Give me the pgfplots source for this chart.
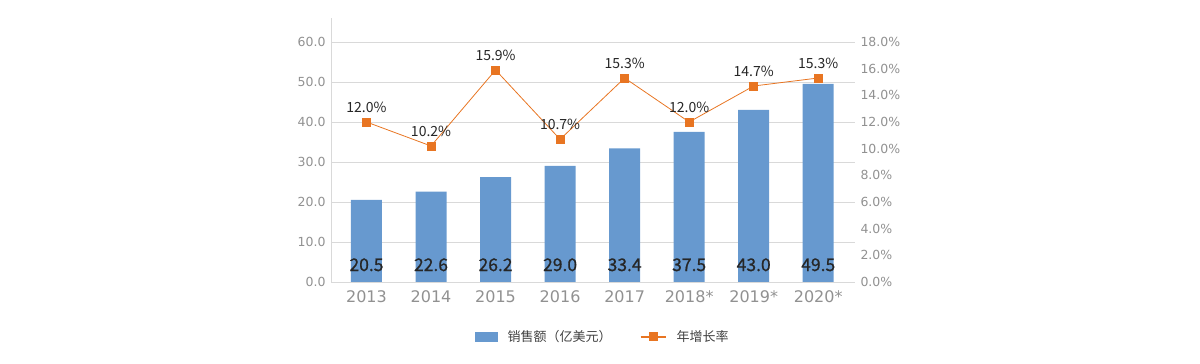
\documentclass[border=0pt]{standalone}
\usepackage{pgfplots}
\pgfplotsset{compat=1.18}
\usepackage{fontspec}
\setmainfont{Noto Sans CJK SC}
\newfontfamily\dejavu{DejaVu Sans}
\newfontfamily\barfont[FakeBold=0.8]{Noto Sans CJK SC}
\definecolor{barblue}{RGB}{103,153,207}
\definecolor{lineorange}{RGB}{232,117,34}
\definecolor{gridgray}{RGB}{217,217,217}
\definecolor{tickgray}{RGB}{145,145,145}
\definecolor{labeldark}{RGB}{38,38,38}
\definecolor{legendtext}{RGB}{64,64,64}
\begin{document}
\begin{tikzpicture}
\useasboundingbox (0,0) rectangle (1200pt,364pt);
\begin{axis}[
  at={(331pt,82pt)}, anchor=south west,
  scale only axis, width=524pt, height=264pt,
  xmin=-0.55, xmax=7.57, ymin=0, ymax=66,
  xtick={0,...,7},
  xticklabels={2013,2014,2015,2016,2017,2018*,2019*,2020*},
  ytick={0,10,...,60},
  yticklabels={0.0,10.0,20.0,30.0,40.0,50.0,60.0},
  major tick length=0pt,
  ymajorgrids, grid style={gridgray, line width=0.8pt},
  axis x line*=bottom, axis y line*=left,
  x axis line style={draw=none},
  y axis line style={draw=gridgray, line width=0.8pt, -},
  xticklabel style={font=\dejavu\fontsize{16}{18}\selectfont, text=tickgray, yshift=-5pt},
  yticklabel style={font=\dejavu\fontsize{12.5}{14}\selectfont, text=tickgray, xshift=-2pt},
  clip=false,
]
\addplot[ybar, bar width=31pt, fill=barblue, draw=none, bar shift=0pt]
  coordinates {(0,20.5) (1,22.6) (2,26.2) (3,29.0) (4,33.4) (5,37.5) (6,43.0) (7,49.5)};
\addplot[draw=none, nodes near coords, point meta=explicit symbolic,
  every node near coord/.append style={anchor=center, font=\barfont\fontsize{17.5}{19}\selectfont, text=labeldark}]
  coordinates {(0,4.3) [20.5] (1,4.3) [22.6] (2,4.3) [26.2] (3,4.3) [29.0]
               (4,4.3) [33.4] (5,4.3) [37.5] (6,4.3) [43.0] (7,4.3) [49.5]};
\end{axis}
\begin{axis}[
  at={(331pt,82pt)}, anchor=south west,
  scale only axis, width=524pt, height=264pt,
  xmin=-0.55, xmax=7.57, ymin=0, ymax=19.8,
  ytick={0,2,...,18},
  yticklabels={0.0\%,2.0\%,4.0\%,6.0\%,8.0\%,10.0\%,12.0\%,14.0\%,16.0\%,18.0\%},
  major tick length=0pt,
  axis y line*=right, axis x line=none,
  y axis line style={draw=none},
  yticklabel style={font=\dejavu\fontsize{12.5}{14}\selectfont, text=tickgray, xshift=2pt},
  clip=false,
  legend columns=2,
  legend style={at={(0.519,-0.208)}, anchor=center, draw=none, fill=none,
    font=\fontsize{13}{15}\selectfont, text=legendtext,
    /tikz/every odd column/.append style={column sep=8pt},
    /tikz/every even column/.append style={column sep=26pt}},
]
\addlegendimage{legend image code/.code={\fill[barblue] (0pt,-4.5pt) rectangle (22pt,4.5pt);}}
\addlegendentry{销售额（亿美元）}
\addplot[lineorange, line width=0.8pt, mark=square*, mark size=4pt,
  nodes near coords, point meta=explicit symbolic,
  every node near coord/.append style={font=\fontsize{14}{16}\selectfont, text=labeldark, yshift=6pt},
  legend image code/.code={\draw[line width=2pt, mark repeat=2,mark phase=2,mark size=3.5pt] plot coordinates {(0pt,0pt) (12.5pt,0pt) (25pt,0pt)};}]
  coordinates {(0,12.0) [12.0\%] (1,10.2) [10.2\%] (2,15.9) [15.9\%] (3,10.7) [10.7\%]
               (4,15.3) [15.3\%] (5,12.0) [12.0\%] (6,14.7) [14.7\%] (7,15.3) [15.3\%]};
\addlegendentry{年增长率}
\end{axis}
\end{tikzpicture}
\end{document}
